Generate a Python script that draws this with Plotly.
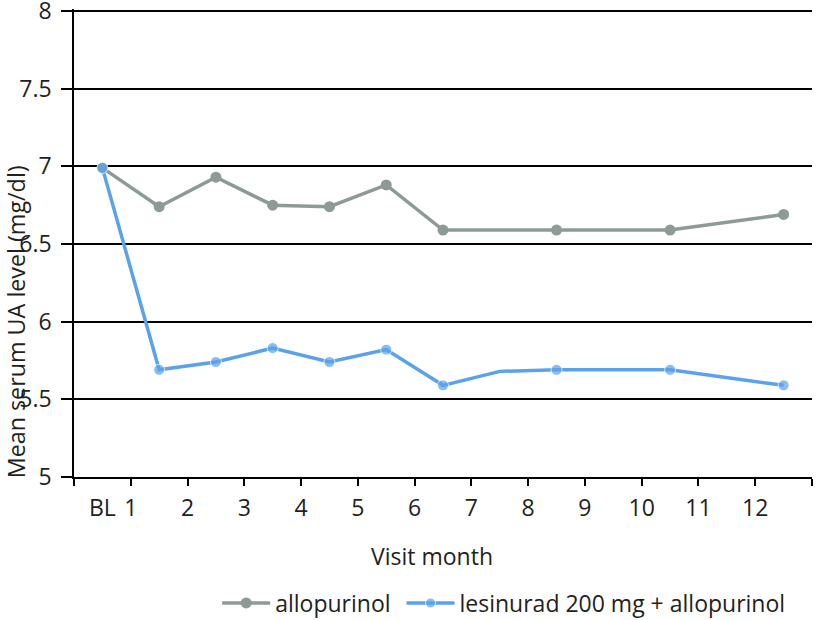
import plotly.graph_objects as go

# Data
tick_labels = ["BL", "1", "2", "3", "4", "5", "6", "7", "8", "9", "10", "11", "12"]
allo_cells = [0, 1, 2, 3, 4, 5, 6, 8, 10, 12]
allo_vals = [6.99, 6.74, 6.93, 6.75, 6.74, 6.88, 6.59, 6.59, 6.59, 6.69]
lesi_cells = [0, 1, 2, 3, 4, 5, 6, 7, 8, 10, 12]
lesi_vals = [6.99, 5.69, 5.74, 5.83, 5.74, 5.82, 5.59, 5.68, 5.69, 5.69, 5.59]
lesi_marker_shown = [1, 1, 1, 1, 1, 1, 1, 0, 1, 1, 1]
y_ticks = [5, 5.5, 6, 6.5, 7, 7.5, 8]

GRAY = "#8d9a97"
BLUE = "#5aa2ec"
FONT = "Open Sans"
FS = 23

fig = go.Figure()
fig.add_trace(go.Scatter(
    x=[c + 0.5 for c in allo_cells], y=allo_vals, mode="lines+markers",
    name="allopurinol\u00a0", line=dict(color=GRAY, width=3.5),
    marker=dict(color=GRAY, size=11)))
fig.add_trace(go.Scatter(
    x=[c + 0.5 for c in lesi_cells], y=lesi_vals, mode="lines+markers",
    name="lesinurad 200 mg + allopurinol", line=dict(color=BLUE, width=3.5),
    marker=dict(color=BLUE, size=[11 * s for s in lesi_marker_shown])))
fig.add_trace(go.Scatter(x=[None], y=[None], xaxis="x2", showlegend=False))

n = len(tick_labels)
fig.update_layout(
    width=825, height=620,
    margin=dict(l=74, r=13, t=9, b=143, autoexpand=False),
    paper_bgcolor="white", plot_bgcolor="white",
    font=dict(family=FONT, size=FS, color="#231f20"),
    showlegend=True,
    legend=dict(orientation="h", x=0.194, xanchor="left",
                yref="container", y=1 - 603 / 620, yanchor="middle",
                font=dict(size=FS), itemwidth=48, tracegroupgap=0),
    xaxis=dict(range=[0, n], tickmode="array", tickvals=list(range(n + 1)),
               ticktext=[""] + tick_labels[1:] + [""],
               ticks="outside", ticklen=7, tickwidth=1.5, tickcolor="black",
               ticklabelstandoff=3,
               showline=True, linecolor="black", linewidth=1.5,
               showgrid=False, zeroline=False, tickfont=dict(size=FS)),
    xaxis2=dict(range=[0, n], overlaying="x", side="bottom", anchor="y",
                tickmode="array", tickvals=[0.5], ticktext=[tick_labels[0]],
                ticks="outside", ticklen=7, tickcolor="rgba(0,0,0,0)",
                ticklabelstandoff=3,
                showline=False, showgrid=False, zeroline=False,
                tickfont=dict(size=FS)),
    yaxis=dict(range=[5, 8 + 2 / 155.67], tickmode="array", tickvals=y_ticks,
               ticktext=[f"{v:g}" for v in y_ticks],
               ticks="outside", ticklen=11, tickwidth=1.5, tickcolor="black",
               ticklabelstandoff=5, ticklabeloverflow="allow",
               showline=True, linecolor="black", linewidth=1.5,
               showgrid=True, gridcolor="black", gridwidth=1.5, zeroline=False,
               tickfont=dict(size=FS)),
    annotations=[
        dict(text="Mean serum UA level (mg/dl)", textangle=-90, xref="paper", yref="paper",
             x=-0.079, y=0.332, xanchor="center", yanchor="middle", showarrow=False,
             font=dict(size=23.3)),
        dict(text="Visit month", xref="paper", yref="paper", x=0.485, y=-0.169,
             xanchor="center", yanchor="middle", showarrow=False, font=dict(size=FS)),
    ],
)

fig.write_html("out.html", config={"displayModeBar": False},
               post_script="document.body.style.margin='0';")
